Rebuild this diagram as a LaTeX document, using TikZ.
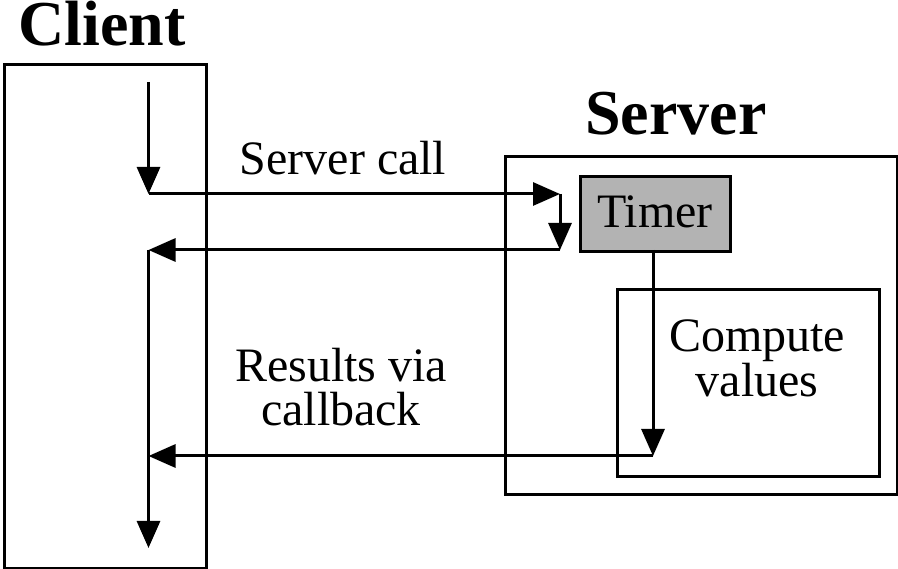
\documentclass[tikz,border=0pt]{standalone}
\usepackage{fontspec}
\setmainfont{Liberation Serif}
\usetikzlibrary{arrows.meta}
\begin{document}
\begin{tikzpicture}[x=1pt,y=-1pt,
  box/.style={draw, line width=3pt, inner sep=0pt, anchor=north west},
  conn/.style={line width=3pt, -{Triangle[length=27pt,width=23pt]}},
  lbl/.style={font=\fontsize{48}{45}\selectfont, inner sep=0pt, anchor=base},
  ttl/.style={font=\fontsize{64}{64}\selectfont\bfseries, inner sep=0pt, anchor=base}]
\useasboundingbox (0,0) rectangle (898,569);
% boxes
\node[box, minimum width=202.5pt, minimum height=504pt] (client) at (2.5,63) {};
\node[box, minimum width=392pt, minimum height=338pt] (server) at (504,155) {};
\node[box, minimum width=262pt, minimum height=187pt] (compute) at (616,288) {};
\node[box, fill={rgb,255:red,179;green,179;blue,179}, minimum width=150pt, minimum height=75pt] (timer) at (579,175) {};
% titles and labels
\node[ttl] (tclient) at (102,46) {Client};
\node[ttl] (tserver) at (676,135) {Server};
\node[lbl] (ttimer) at (655,228) {Timer};
\node[lbl] (lcall) at (343,175) {Server call};
\node[lbl] (lres1) at (341,382) {Results via};
\node[lbl] (lres2) at (341,426) {callback};
\node[lbl] (lcomp1) at (757,352) {Compute};
\node[lbl] (lcomp2) at (757,397) {values};
% connector points
\coordinate (c0) at (148.5,82);
\coordinate (c1) at (148.5,194);
\coordinate (s1) at (560,194);
\coordinate (s2) at (560,250);
\coordinate (c2) at (148.5,250);
\coordinate (c3) at (148.5,548);
\coordinate (t1) at (653,250);
\coordinate (t2) at (653,456);
\coordinate (c4) at (148.5,456);
% connectors
\draw[conn] (c0) -- (c1);
\draw[conn] (c1) -- (s1);
\draw[conn] (s1) -- (s2);
\draw[conn] (s2) -- (c2);
\draw[conn] (c2) -- (c3);
\draw[conn] (t1) -- (t2);
\draw[conn] (t2) -- (c4);
\end{tikzpicture}
\end{document}
